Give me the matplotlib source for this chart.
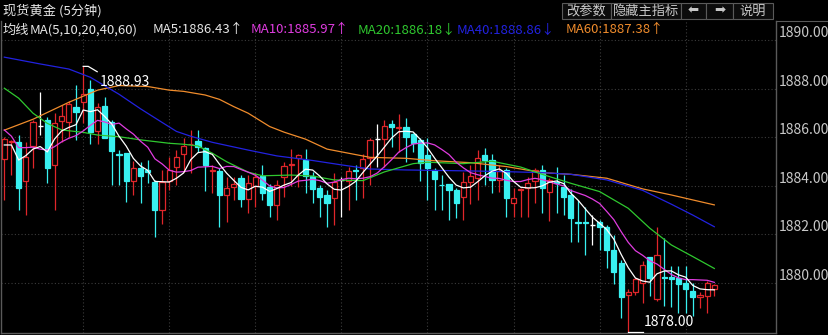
import matplotlib
matplotlib.use('Agg')
import matplotlib.pyplot as plt
from matplotlib.patches import Rectangle
import numpy as np
import pandas as pd

plt.rcParams['font.family'] = ['Noto Sans CJK SC', 'DejaVu Sans']

W, H = 829, 335

# 5-minute candles
open_ = [1885.10, 1885.83, 1885.80, 1884.21, 1885.66, 1886.47, 1886.72, 1884.87, 1886.69, 1886.65,
         1887.27, 1887.48, 1887.99, 1886.27, 1887.30, 1886.65, 1885.33, 1885.35, 1884.21, 1884.73,
         1884.66, 1884.15, 1883.01, 1884.21, 1884.80, 1885.30, 1885.71, 1885.86, 1885.55, 1884.60,
         1884.62, 1883.63, 1883.95, 1884.32, 1883.45, 1884.00, 1884.41, 1883.95, 1883.22, 1884.36,
         1884.87, 1885.14, 1885.07, 1884.41, 1883.90, 1883.63, 1883.49, 1884.25, 1884.21, 1884.64,
         1884.73, 1885.14, 1885.93, 1885.93, 1886.54, 1886.39, 1886.45, 1886.13, 1885.90, 1885.28,
         1884.66, 1884.06, 1884.07, 1883.84, 1883.56, 1884.15, 1884.32, 1885.28, 1885.07, 1884.25,
         1884.66, 1883.28, 1883.82, 1883.90, 1884.21, 1884.66, 1883.77, 1884.18, 1883.95, 1883.63,
         1882.52, 1882.52, 1882.39, 1882.53, 1882.32, 1881.36, 1880.81, 1879.51, 1879.63, 1880.00,
         1881.08, 1879.33, 1880.24, 1880.26, 1880.22, 1880.01, 1879.67, 1879.43, 1879.47, 1879.77]
high = [1886.03, 1885.90, 1886.10, 1885.80, 1886.72, 1887.86, 1886.86, 1887.00, 1887.34, 1887.51,
        1888.16, 1888.93, 1888.37, 1887.41, 1887.68, 1886.72, 1885.48, 1885.37, 1885.03, 1885.00,
        1885.07, 1884.25, 1884.66, 1885.21, 1885.48, 1885.97, 1886.31, 1886.31, 1885.62, 1884.87,
        1884.73, 1884.38, 1884.38, 1884.45, 1884.45, 1884.55, 1884.87, 1884.08, 1884.25, 1885.00,
        1885.51, 1885.31, 1885.51, 1884.59, 1884.04, 1883.84, 1884.52, 1884.36, 1884.80, 1884.87,
        1885.30, 1885.97, 1886.54, 1886.72, 1886.72, 1886.96, 1886.79, 1886.17, 1885.97, 1885.97,
        1884.73, 1884.45, 1884.07, 1883.90, 1884.59, 1884.87, 1885.49, 1885.55, 1885.30, 1884.87,
        1884.76, 1883.90, 1883.90, 1884.38, 1884.76, 1884.87, 1884.32, 1884.77, 1884.45, 1883.86,
        1883.42, 1883.15, 1882.80, 1882.60, 1882.39, 1881.98, 1880.95, 1879.77, 1880.22, 1880.91,
        1881.08, 1882.32, 1881.84, 1880.70, 1880.70, 1880.70, 1880.01, 1879.63, 1880.09, 1879.95]
low = [1883.42, 1884.45, 1883.01, 1882.80, 1884.73, 1886.10, 1884.11, 1883.01, 1885.83, 1886.03,
       1885.90, 1886.58, 1885.72, 1885.72, 1885.97, 1884.04, 1884.04, 1883.35, 1883.63, 1883.29,
       1884.11, 1881.91, 1882.42, 1883.84, 1884.04, 1884.59, 1884.52, 1885.38, 1883.81, 1883.72,
       1882.32, 1882.53, 1883.42, 1883.12, 1882.87, 1883.15, 1883.42, 1882.74, 1882.60, 1883.56,
       1883.99, 1883.97, 1883.70, 1883.31, 1882.71, 1882.32, 1882.40, 1882.71, 1883.01, 1883.42,
       1883.52, 1884.05, 1884.80, 1884.80, 1885.62, 1885.42, 1885.00, 1885.42, 1884.22, 1883.42,
       1883.01, 1883.01, 1882.58, 1882.66, 1882.58, 1883.26, 1883.42, 1884.04, 1883.70, 1883.74,
       1882.74, 1882.74, 1882.74, 1882.74, 1883.30, 1882.90, 1882.54, 1882.87, 1882.80, 1881.70,
       1881.70, 1881.15, 1881.57, 1881.36, 1880.60, 1879.97, 1878.54, 1878.00, 1879.49, 1879.19,
       1879.47, 1879.26, 1879.06, 1879.03, 1878.78, 1878.78, 1878.64, 1878.99, 1878.78, 1879.47]
close = [1885.94, 1885.87, 1883.93, 1885.21, 1886.65, 1886.47, 1884.76, 1886.58, 1886.89, 1887.37,
         1887.04, 1887.78, 1886.24, 1887.27, 1885.99, 1885.46, 1885.29, 1884.21, 1884.73, 1884.43,
         1884.56, 1883.01, 1884.15, 1884.66, 1885.21, 1885.65, 1885.75, 1885.60, 1884.87, 1884.64,
         1883.63, 1883.90, 1884.10, 1883.45, 1884.11, 1884.38, 1883.72, 1883.22, 1884.04, 1884.82,
         1884.91, 1885.28, 1884.41, 1883.86, 1883.56, 1883.31, 1884.18, 1884.25, 1884.62, 1884.60,
         1885.13, 1885.90, 1885.93, 1886.47, 1886.45, 1886.43, 1886.00, 1885.79, 1884.94, 1884.73,
         1884.29, 1884.02, 1883.84, 1883.31, 1884.15, 1884.43, 1885.14, 1885.07, 1884.25, 1884.62,
         1883.52, 1883.49, 1883.86, 1884.11, 1884.66, 1883.90, 1884.25, 1884.11, 1883.56, 1882.67,
         1882.48, 1882.48, 1882.39, 1882.29, 1881.38, 1880.46, 1879.41, 1879.63, 1880.15, 1880.76,
         1880.22, 1881.14, 1880.20, 1880.18, 1879.95, 1879.74, 1879.43, 1879.49, 1880.02, 1879.91]

# moving averages: first values come from bars left of the window
ma5_head = [1885.69, 1885.69, 1885.07, 1885.25]
ma10_head = [1886.31, 1886.05, 1885.58, 1885.58, 1885.60, 1885.52, 1885.48, 1885.62, 1885.82]
ma20_idx = [0, 2, 4, 6, 8, 11, 13, 16, 19, 23, 25, 27, 29, 31, 34, 36, 40, 43, 46, 50,
            53, 57, 59, 64, 68, 72, 75, 79, 83, 87, 90, 93, 96, 99]
ma20_val = [1888.03, 1887.62, 1887.00, 1886.58, 1886.31, 1886.21, 1886.10, 1886.03, 1885.90, 1885.76,
            1885.72, 1885.65, 1885.35, 1885.00, 1884.57, 1884.42, 1884.45, 1884.41, 1884.25, 1884.22,
            1884.58, 1884.92, 1884.98, 1884.92, 1885.02, 1884.78, 1884.48, 1884.11, 1883.77, 1883.08,
            1882.26, 1881.57, 1881.09, 1880.60]
ma40_idx = [0, 5, 9, 12, 16, 19, 22, 24, 26, 29, 34, 38, 43, 47, 51, 56, 65, 70, 75, 79,
            84, 89, 93, 96, 99]
ma40_val = [1889.31, 1889.03, 1888.82, 1888.48, 1887.78, 1887.18, 1886.62, 1886.25, 1886.05, 1885.80,
            1885.48, 1885.24, 1885.05, 1884.87, 1884.70, 1884.66, 1884.62, 1884.59, 1884.55, 1884.48,
            1884.25, 1883.82, 1883.25, 1882.80, 1882.32]
ma60_idx = [0, 4, 9, 13, 16, 20, 23, 25, 28, 30, 32, 34, 37, 39, 42, 45, 48, 51, 56, 60,
            65, 70, 75, 79, 84, 89, 93, 99]
ma60_val = [1886.30, 1886.75, 1887.45, 1887.95, 1888.14, 1888.10, 1887.95, 1887.90, 1887.75, 1887.57,
            1887.27, 1887.00, 1886.45, 1886.22, 1885.93, 1885.52, 1885.35, 1885.18, 1885.14, 1885.04,
            1884.96, 1884.80, 1884.55, 1884.48, 1884.32, 1883.88, 1883.63, 1883.22]

price_ticks = [1880, 1882, 1884, 1886, 1888, 1890]
hour_marks = [11, 23, 35, 47, 59, 71, 83, 95]

UP = '#e0262a'
DOWN = '#38f0f0'
C_MA5 = '#ffffff'
C_MA10 = '#e03ce0'
C_MA20 = '#2fc82f'
C_MA40 = '#2222e0'
C_MA60 = '#f08c2c'
TXT = '#c8c8c8'


def fx(x):
    return x / W


def fy(y):
    return 1 - y / H


fig = plt.figure(figsize=(W / 100, H / 100), dpi=100, facecolor='black')
ax = fig.add_axes([fx(1), fy(333), (776 - 1) / W, (333 - 21) / H])
ax.set_facecolor('black')

n = len(close)
xs = np.arange(n)
ax.set_xlim(-0.46, 107.6)
ax.set_ylim(1877.94, 1890.80)

# grid
ax.set_yticks(price_ticks)
ax.set_xticks(hour_marks)
ax.grid(True, color='#3c3c3c', lw=0.8, ls=(0, (1, 2)))
ax.tick_params(axis='x', length=0, labelbottom=False)
ax.yaxis.tick_right()
ax.tick_params(axis='y', length=0, pad=2, labelsize=10, labelcolor=TXT)
ax.set_yticklabels([f'{t:.2f}' for t in price_ticks])
for lab in ax.get_yticklabels():
    lab.set_va('bottom')
for s in ['top']:
    ax.spines[s].set_visible(False)
for s in ['left', 'bottom', 'right']:
    ax.spines[s].set_color('#5a5a5a')
    ax.spines[s].set_linewidth(1)

# candles
bw = 0.72
for i in range(n):
    o, h, l, c = open_[i], high[i], low[i], close[i]
    if c > o:
        col = UP
    elif c < o:
        col = DOWN
    else:
        col = '#ffffff'
    ax.vlines(i, l, h, color=col, lw=0.9, zorder=2)
    if c == o:
        ax.hlines(c, i - bw / 2, i + bw / 2, color=col, lw=1, zorder=3)
    elif c > o:
        ax.add_patch(Rectangle((i - bw / 2, o), bw, c - o, facecolor='black',
                               edgecolor=col, lw=0.9, zorder=3))
    else:
        ax.add_patch(Rectangle((i - bw / 2, c), bw, o - c, facecolor=col,
                               edgecolor=col, lw=0.9, zorder=3))

# moving averages
cs = pd.Series(close)
ma5 = cs.rolling(5).mean().to_numpy()
ma5[:len(ma5_head)] = ma5_head
ma10 = cs.rolling(10).mean().to_numpy()
ma10[:len(ma10_head)] = ma10_head

ax.plot(ma60_idx, ma60_val, color=C_MA60, lw=0.9, zorder=4)
ax.plot(ma40_idx, ma40_val, color=C_MA40, lw=0.9, zorder=4)
ax.plot(ma20_idx, ma20_val, color=C_MA20, lw=0.9, zorder=4)
ax.plot(xs, ma10, color=C_MA10, lw=0.9, zorder=4)
ax.plot(xs, ma5, color=C_MA5, lw=0.9, zorder=5)

# max / min marks
imax = int(np.argmax(high))
imin = int(np.argmin(low))
ax.plot([imax, imax + 0.7, imax + 1.95], [high[imax], high[imax], high[imax] - 0.22],
        color='white', lw=0.9, zorder=6)
ax.text(imax + 2.3, high[imax] - 0.64, f'{high[imax]:.2f}', color='white',
        fontsize=10, va='center', ha='left', zorder=6)
ax.plot([imin, imin + 2.05], [low[imin], low[imin]], color='white', lw=0.9, zorder=6)
ax.text(imin + 2.2, low[imin] + 0.38, f'{low[imin]:.2f}', color='white',
        fontsize=10, va='center', ha='left', zorder=6)

# header
fig.text(fx(3), fy(11), '现货黄金 (5分钟)', color='#e6e6e6', fontsize=9.5, va='center', ha='left')

legend_items = [
    (3, '均线', '#e6e6e6'),
    (30, 'MA(5,10,20,40,60)', '#e6e6e6'),
    (153, 'MA5:1886.43↑', '#e6e6e6'),
    (251, 'MA10:1885.97↑', C_MA10),
    (358, 'MA20:1886.18↓', C_MA20),
    (457, 'MA40:1888.86↓', C_MA40),
    (566, 'MA60:1887.38↑', C_MA60),
]
for x, s, col in legend_items:
    fig.text(fx(x), fy(30), s, color=col, fontsize=9.5, va='center', ha='left')

# buttons
buttons = [(562, 611, '改参数'), (611, 681, '隐藏主指标'), (681, 706, '⬅'),
           (706, 733, '➡'), (733, 773, '说明')]
for x0, x1, s in buttons:
    fig.add_artist(Rectangle((fx(x0), fy(19)), (x1 - x0) / W, 16 / H,
                             transform=fig.transFigure, facecolor='#0c0c0c',
                             edgecolor='#5a5a5a', lw=0.8))
    fig.text(fx((x0 + x1) / 2), fy(11), s, color=TXT, fontsize=9.5,
             va='center', ha='center', family=['DejaVu Sans'] if s in '⬅➡' else None)

fig.add_artist(plt.Line2D([fx(776), fx(829)], [fy(21), fy(21)], transform=fig.transFigure,
                          color='#5a5a5a', lw=0.8))

fig.savefig('out.png', dpi=100, facecolor='black')
